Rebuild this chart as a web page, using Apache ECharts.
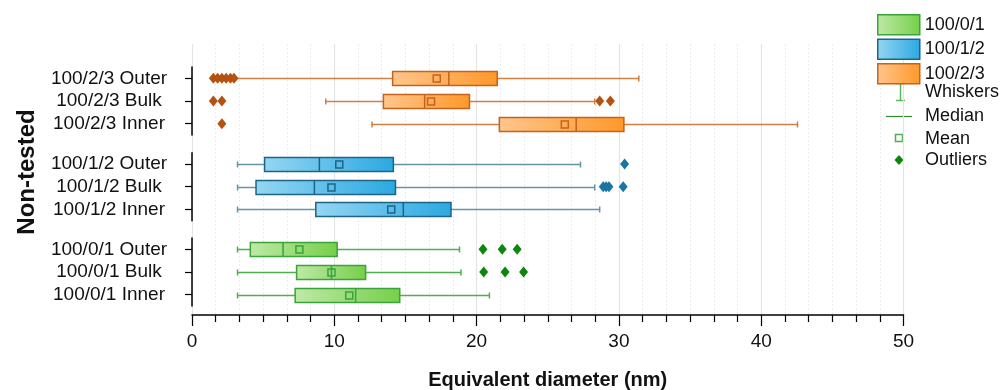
<!DOCTYPE html>
<html><head><meta charset="utf-8">
<script src="https://cdn.jsdelivr.net/npm/echarts@6/dist/echarts.min.js"></script>
<style>html,body{margin:0;padding:0;background:#fff}#c{width:1003px;height:390px}</style>
</head><body><div id="c"></div>
<script>
// ---- data ----
const groupNames = ['100/0/1', '100/1/2', '100/2/3'];
const xTicks = [0, 10, 20, 30, 40, 50];

// 100/2/3 : [min, Q1, median, Q3, max]
const cats_231 = ['100/2/3 Outer', '100/2/3 Bulk', '100/2/3 Inner'];
const box_231 = [[3.0, 14.1, 18.05, 21.45, 31.4], [9.4, 13.45, 16.35, 19.5, 28.3], [12.65, 21.6, 27.0, 30.35, 42.55]];
const mean_231 = [17.2, 16.8, 26.2];
const out_231 = [[1.5, 1.8, 2.1, 2.4, 2.7, 2.95], [1.5, 2.1, 28.65, 29.4], [2.1]];

// 100/1/2
const cats_112 = ['100/1/2 Outer', '100/1/2 Bulk', '100/1/2 Inner'];
const box_112 = [[3.2, 5.1, 8.95, 14.15, 27.3], [3.2, 4.5, 8.6, 14.3, 28.3], [3.2, 8.7, 14.85, 18.2, 28.65]];
const mean_112 = [10.35, 9.8, 14.0];
const out_112 = [[30.4], [28.9, 29.1, 29.3, 30.3], []];

// 100/0/1
const cats_001 = ['100/0/1 Outer', '100/0/1 Bulk', '100/0/1 Inner'];
const box_001 = [[3.2, 4.1, 6.4, 10.2, 18.8], [3.2, 7.35, 9.8, 12.2, 18.9], [3.2, 7.25, 11.5, 14.6, 20.9]];
const mean_001 = [7.55, 9.8, 11.05];
const out_001 = [[20.45, 21.8, 22.85], [20.5, 22.0, 23.3], []];

// ---- styles ----
const FONT = 'Liberation Sans';
const styles = {
  '100/2/3': {c0: '#ffc68c', c1: '#ff982a', border: '#c5621c', whisker: 'rgba(196,98,26,0.8)', outlier: '#b4520f'},
  '100/1/2': {c0: '#95d6f2', c1: '#2ba8e1', border: '#1d6486', whisker: '#6494a6', outlier: '#1a74a4'},
  '100/0/1': {c0: '#bfe9a8', c1: '#76cf4a', border: '#3aa33a', whisker: '#4fae4f', outlier: '#0b870b'}
};
function grad(s) {
  return new echarts.graphic.LinearGradient(0, 0, 1, 0, [{offset: 0, color: s.c0}, {offset: 1, color: s.c1}]);
}

const panels = [
  {name: '100/2/3', cats: cats_231, box: box_231, mean: mean_231, out: out_231, top: 67},
  {name: '100/1/2', cats: cats_112, box: box_112, mean: mean_112, out: out_112, top: 152.7},
  {name: '100/0/1', cats: cats_001, box: box_001, mean: mean_001, out: out_001, top: 238}
];

const GL = 192, GR = 99.5;
const grids = [{left: GL, right: GR, top: 44, bottom: 75, outerBoundsMode: 'none', containLabel: false}];
const xAxes = [{
  gridIndex: 0, type: 'value', min: xTicks[0], max: xTicks[xTicks.length - 1], interval: xTicks[1] - xTicks[0],
  axisLine: {show: true, lineStyle: {color: '#000', width: 1.5}},
  axisTick: {show: true, length: 11, lineStyle: {color: '#000', width: 1.2}},
  minorTick: {show: true, splitNumber: 6, length: 7, lineStyle: {color: '#000', width: 1.2}},
  splitLine: {show: true, lineStyle: {color: '#e4e4e4', width: 1.2}},
  minorSplitLine: {show: true, lineStyle: {color: '#ececec', width: 1, type: [2, 2]}},
  axisLabel: {fontFamily: FONT, fontSize: 19, color: '#111', margin: 17},
  name: 'Equivalent diameter (nm)', nameLocation: 'middle', nameGap: 55,
  nameTextStyle: {fontFamily: FONT, fontSize: 20, fontWeight: 'bold', color: '#111'}
}];
const yAxes = [{gridIndex: 0, type: 'value', show: false, min: 0, max: 1}];
const series = [];

panels.forEach((p, i) => {
  const gi = i + 1;
  const s = styles[p.name];
  grids.push({left: GL, right: GR, top: p.top, height: 68, outerBoundsMode: 'none', containLabel: false});
  xAxes.push({gridIndex: gi, type: 'value', min: xTicks[0], max: xTicks[xTicks.length - 1], show: false});
  yAxes.push({
    gridIndex: gi, type: 'category', data: p.cats, inverse: true,
    axisLine: {show: true, lineStyle: {color: '#000', width: 1.5}},
    axisTick: {show: true, alignWithLabel: true, interval: 0, length: 7, lineStyle: {color: '#000', width: 1.2}},
    axisLabel: {fontFamily: FONT, fontSize: 19, color: '#111', align: 'center', margin: 83, interval: 0},
    splitLine: {show: false}
  });
  const boxData = p.box.map((b, k) => [k, b[0], b[1], b[2], b[3], b[4], p.mean[k]]);
  series.push({
    type: 'custom', name: p.name, xAxisIndex: gi, yAxisIndex: gi,
    itemStyle: {color: grad(s), borderColor: s.border},
    encode: {x: [1, 2, 3, 4, 5, 6], y: 0},
    data: boxData, z: 3,
    renderItem: function (params, api) {
      const yi = api.value(0);
      const pt = k => api.coord([api.value(k), yi]);
      const pMin = pt(1), pQ1 = pt(2), pMed = pt(3), pQ3 = pt(4), pMax = pt(5), pMean = pt(6);
      const cy = Math.round(pMin[1]) + 0.5;
      const h = 14, cap = 3;
      const ws = {stroke: s.whisker, lineWidth: 1.5};
      return {type: 'group', children: [
        {type: 'line', shape: {x1: pMin[0], y1: cy, x2: pQ1[0], y2: cy}, style: ws},
        {type: 'line', shape: {x1: pQ3[0], y1: cy, x2: pMax[0], y2: cy}, style: ws},
        {type: 'line', shape: {x1: pMin[0], y1: cy - cap, x2: pMin[0], y2: cy + cap}, style: ws},
        {type: 'line', shape: {x1: pMax[0], y1: cy - cap, x2: pMax[0], y2: cy + cap}, style: ws},
        {type: 'rect', shape: {x: pQ1[0], y: cy - h / 2, width: pQ3[0] - pQ1[0], height: h},
          style: {fill: grad(s), stroke: s.border, lineWidth: 1.5}},
        {type: 'line', shape: {x1: pMed[0], y1: cy - h / 2, x2: pMed[0], y2: cy + h / 2},
          style: {stroke: s.border, lineWidth: 1.5}},
        {type: 'rect', shape: {x: pMean[0] - 3.5, y: cy - 3.5, width: 7, height: 7},
          style: {fill: 'none', stroke: s.border, lineWidth: 1.5}}
      ]};
    }
  });
  const outData = [];
  p.out.forEach((arr, k) => arr.forEach(v => outData.push([v, k])));
  series.push({
    type: 'scatter', name: 'outliers ' + p.name, xAxisIndex: gi, yAxisIndex: gi,
    symbol: 'diamond', symbolSize: [9, 11], itemStyle: {color: s.outlier, opacity: 1},
    data: outData, z: 4, silent: true
  });
});

const chart = echarts.init(document.getElementById('c'), null, {renderer: 'canvas'});
chart.setOption({
  animation: false,
  backgroundColor: '#fff',
  grid: grids, xAxis: xAxes, yAxis: yAxes, series: series,
  legend: {
    orient: 'vertical', left: 877, top: 14, padding: 0, itemWidth: 42, itemHeight: 20, itemGap: 3,
    selectedMode: false, icon: 'rect',
    textStyle: {fontFamily: FONT, fontSize: 18, color: '#111'},
    data: groupNames.map(n => ({name: n, itemStyle: {color: grad(styles[n]), borderColor: styles[n].border, borderWidth: 1.5}}))
  },
  graphic: [
    {type: 'text', x: 27, y: 172, rotation: Math.PI / 2,
      style: {text: 'Non-tested', font: 'bold 24px "' + FONT + '"', fill: '#111', align: 'center', verticalAlign: 'middle'}},
    // legend keys
    {type: 'line', shape: {x1: 900.5, y1: 83, x2: 900.5, y2: 101}, style: {stroke: '#5cb85c', lineWidth: 1.5}},
    {type: 'line', shape: {x1: 896, y1: 83.5, x2: 905, y2: 83.5}, style: {stroke: '#5cb85c', lineWidth: 1.5}},
    {type: 'line', shape: {x1: 896, y1: 100.5, x2: 905, y2: 100.5}, style: {stroke: '#5cb85c', lineWidth: 1.5}},
    {type: 'text', x: 925, y: 92, style: {text: 'Whiskers', font: '18px "' + FONT + '"', fill: '#111', verticalAlign: 'middle'}},
    {type: 'line', shape: {x1: 886, y1: 116.5, x2: 912, y2: 116.5}, style: {stroke: '#2e8b2e', lineWidth: 1.2}},
    {type: 'text', x: 925, y: 116, style: {text: 'Median', font: '18px "' + FONT + '"', fill: '#111', verticalAlign: 'middle'}},
    {type: 'rect', shape: {x: 895.5, y: 134.5, width: 7, height: 7}, style: {fill: 'none', stroke: '#4caf50', lineWidth: 1.5}},
    {type: 'text', x: 925, y: 139, style: {text: 'Mean', font: '18px "' + FONT + '"', fill: '#111', verticalAlign: 'middle'}},
    {type: 'polygon', shape: {points: [[899, 155], [903.5, 160], [899, 165], [894.5, 160]]}, style: {fill: '#0b870b'}},
    {type: 'text', x: 925, y: 160, style: {text: 'Outliers', font: '18px "' + FONT + '"', fill: '#111', verticalAlign: 'middle'}}
  ]
});
</script>
</body></html>
